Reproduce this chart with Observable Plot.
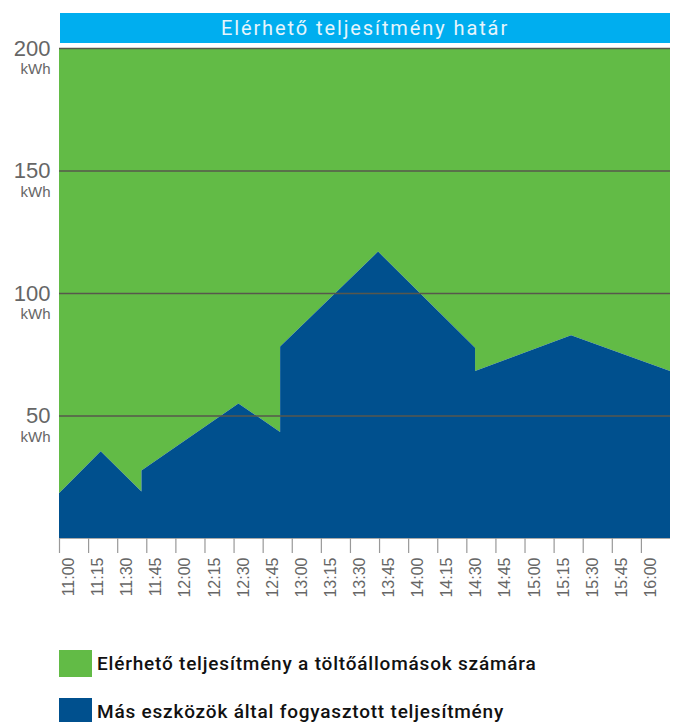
<!DOCTYPE html>
<html>
<head>
<meta charset="utf-8">
<script src="https://cdn.jsdelivr.net/npm/d3@7"></script>
<script src="https://cdn.jsdelivr.net/npm/@observablehq/plot@0.6"></script>
<style>
  html, body { margin: 0; padding: 0; background: #fff; }
  body { width: 679px; height: 722px; overflow: hidden; position: relative; }
  .banner {
    position: absolute; top: 13px; left: 60px; width: 610px; height: 30px; line-height: 31px;
    background: #00aeef; color: #e6f5fc; text-align: center;
    font-family: Roboto, "DejaVu Sans", sans-serif; font-size: 20px; letter-spacing: 1.9px;
  }
  #chart svg { display: block; overflow: visible; }
  g[aria-label="xlabels"] text { letter-spacing: 1.2px; }
  .legend { margin: 27px 0 0 59px; font-family: Roboto, "DejaVu Sans", sans-serif; font-weight: 500; font-size: 19px; letter-spacing: 0.8px; color: #111; }
  .legend .item { display: flex; align-items: center; height: 27px; margin-bottom: 21px; }
  .legend .sw { width: 33px; height: 27px; margin-right: 5px; flex: none; }
</style>
</head>
<body>
<div id="chart"></div>
<div class="legend" id="legend"></div>
<div class="banner" id="title"></div>
<script>
// ---- data ----
const titleText = "Elérhető teljesítmény határ";
const timeLabels = ["11:00","11:15","11:30","11:45","12:00","12:15","12:30","12:45","13:00","13:15","13:30","13:45","14:00","14:15","14:30","14:45","15:00","15:15","15:30","15:45","16:00"];
// minutes after 11:00 of each outline vertex of the consumption area
const minutes = [-7.5, 14, 35, 35, 85, 106.5, 106.5, 157, 207, 207, 256.5, 307.5];
// consumption of other devices (kWh)
const consumed = [18.3, 35.4, 19, 27.6, 54.9, 43.3, 78.2, 116.9, 77.7, 68.2, 82.8, 68.2];
const limit = 200;
const yTicks = [50, 100, 150, 200];
const seriesNames = ["Elérhető teljesítmény a töltőállomások számára", "Más eszközök által fogyasztott teljesítmény"];
const colors = ["#62bb46", "#00508e"];

// ---- build ----
const data = minutes.map((t, i) => ({t, v: consumed[i]}));
const labelPos = timeLabels.map((_, i) => i * 15);
const boundaries = timeLabels.map((_, i) => i * 15 - 7.5);

document.getElementById("title").textContent = titleText;

const chart = Plot.plot({
  width: 679,
  height: 623,
  marginLeft: 59,
  marginRight: 9,
  marginTop: 48,
  marginBottom: 85,
  x: {type: "linear", domain: [-7.5, 307.5]},
  y: {domain: [0, 200], axis: null},
  marks: [
    Plot.areaY(data, {x: "t", y1: "v", y2: () => limit, fill: colors[0]}),
    Plot.areaY(data, {x: "t", y1: () => 0, y2: "v", fill: colors[1]}),
    Plot.ruleY(yTicks, {stroke: "#57574c", strokeWidth: 1.6}),
    Plot.ruleY([0], {stroke: "#aaa", strokeWidth: 1}),
    Plot.axisX(boundaries, {tickSize: 15, tickFormat: () => "", label: null, stroke: "#999", strokeWidth: 1.2}),
    Plot.text(labelPos, {
      x: d => d, text: (d, i) => timeLabels[i], frameAnchor: "bottom",
      rotate: -90, textAnchor: "end", dy: 19, fontSize: 16, fill: "#666",
      fontFamily: "'Liberation Sans', Arial, sans-serif", ariaLabel: "xlabels"
    }),
    Plot.text(yTicks, {
      y: d => d, text: d => String(d), frameAnchor: "left", textAnchor: "end",
      dx: -9, fontSize: 22, fill: "#666", fontFamily: "'Liberation Sans', Arial, sans-serif"
    }),
    Plot.text(yTicks, {
      y: d => d, text: () => "kWh", frameAnchor: "left", textAnchor: "end",
      dx: -9, dy: 21, fontSize: 15, fill: "#666", fontFamily: "'Liberation Sans', Arial, sans-serif"
    })
  ]
});
document.getElementById("chart").appendChild(chart);

const legend = document.getElementById("legend");
seriesNames.forEach((name, i) => {
  const item = document.createElement("div");
  item.className = "item";
  const sw = document.createElement("div");
  sw.className = "sw";
  sw.style.background = colors[i];
  const label = document.createElement("span");
  label.textContent = name;
  item.appendChild(sw);
  item.appendChild(label);
  legend.appendChild(item);
});
</script>
</body>
</html>
